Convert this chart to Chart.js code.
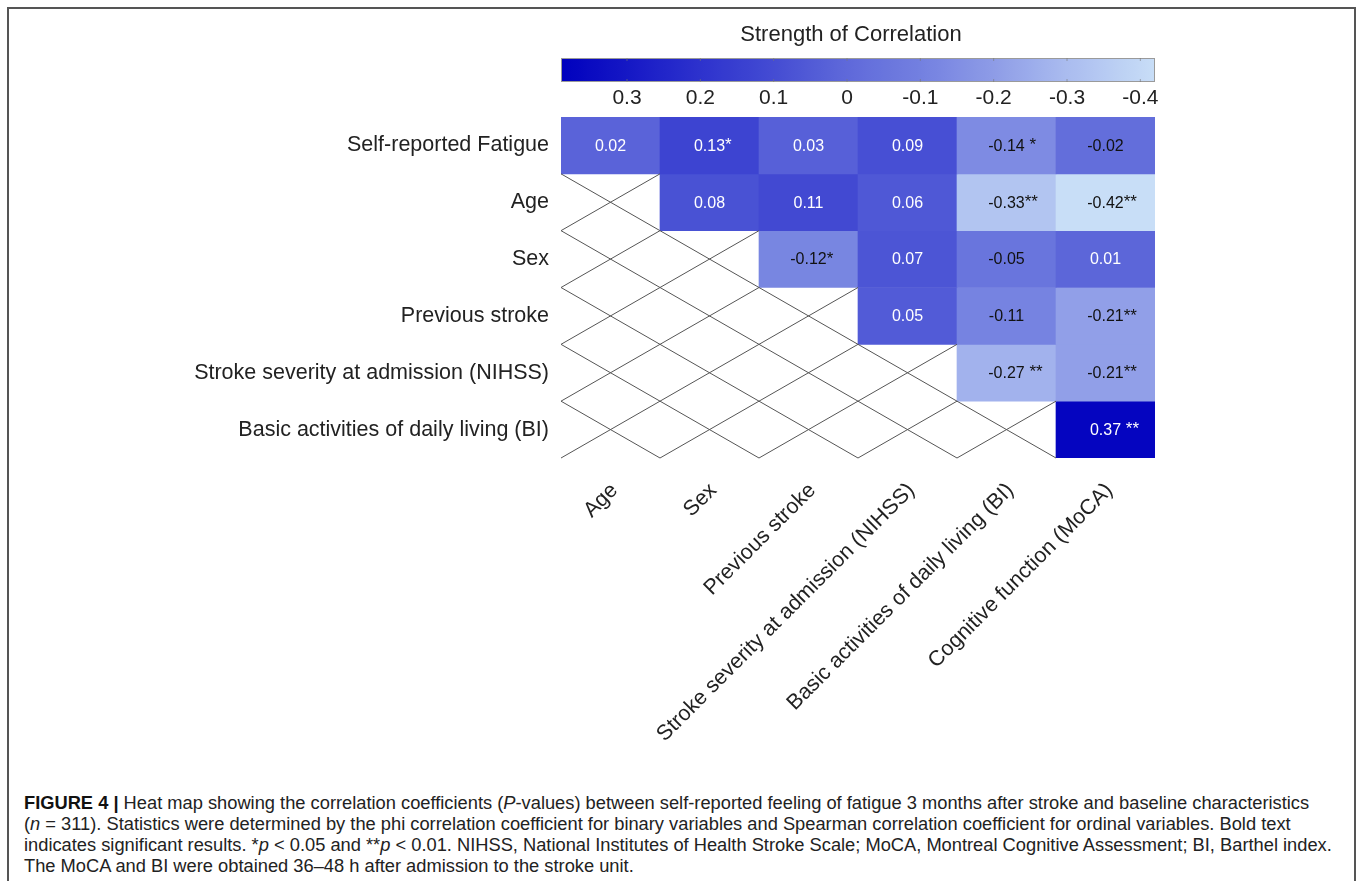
<!DOCTYPE html>
<html>
<head>
<meta charset="utf-8">
<script src="https://cdn.jsdelivr.net/npm/chart.js@4.4.0/dist/chart.umd.min.js"></script>
<style>
  body { margin: 0; background: #fff; }
  #frame { position: absolute; left: 7px; top: 7px; width: 1345px; height: 900px; border: 2px solid #555; }
  #wrap { position: absolute; left: 0; top: 0; width: 1357px; height: 760px; }
  #caption { position: absolute; left: 24px; top: 792px; font-family: "Liberation Sans", Arial, sans-serif;
             font-size: 18.3px; line-height: 21px; color: #222; white-space: nowrap; }
  #caption b { color: #111; }
</style>
</head>
<body>
<div id="frame"></div>
<div id="wrap"><canvas id="myChart" width="1357" height="760"></canvas></div>
<div id="caption"><b>FIGURE 4 |</b> Heat map showing the correlation coefficients (<i>P</i>-values) between self-reported feeling of fatigue 3 months after stroke and baseline characteristics<br>(<i>n</i> = 311). Statistics were determined by the phi correlation coefficient for binary variables and Spearman correlation coefficient for ordinal variables. Bold text<br>indicates significant results. *<i>p</i> &lt; 0.05 and **<i>p</i> &lt; 0.01. NIHSS, National Institutes of Health Stroke Scale; MoCA, Montreal Cognitive Assessment; BI, Barthel index.<br>The MoCA and BI were obtained 36–48 h after admission to the stroke unit.</div>
<script>
var colLabels = ["Age", "Sex", "Previous stroke", "Stroke severity at admission (NIHSS)",
                 "Basic activities of daily living (BI)", "Cognitive function (MoCA)"];
var rowLabels = ["Self-reported Fatigue", "Age", "Sex", "Previous stroke",
                 "Stroke severity at admission (NIHSS)", "Basic activities of daily living (BI)"];

// correlation per row, null = empty (lower triangle)
var corr = [
    [0.02, 0.13, 0.03, 0.09, -0.14, -0.02],
    [null, 0.08, 0.11, 0.06, -0.33, -0.42],
    [null, null, -0.12, 0.07, -0.05, 0.01],
    [null, null, null, 0.05, -0.11, -0.21],
    [null, null, null, null, -0.27, -0.21],
    [null, null, null, null, null, 0.37]
];
var stars = [
    ["", "*", "", "", " *", ""],
    ["", "", "", "", "**", "**"],
    ["", "", "*", "", "", ""],
    ["", "", "", "", "", "**"],
    ["", "", "", "", " **", "**"],
    ["", "", "", "", "", " **"]
];

var cbTicks = [0.3, 0.2, 0.1, 0, -0.1, -0.2, -0.3, -0.4];
var cbRange = [0.39, -0.42];

var FONT = '"Liberation Sans", Arial, sans-serif';

// colour stops (value -> rgb)
var cmap = [
    [0.39, [0, 0, 190]],
    [0.2, [45, 50, 205]],
    [0.1, [68, 76, 211]],
    [0, [95, 105, 218]],
    [-0.1, [115, 128, 224]],
    [-0.2, [142, 156, 231]],
    [-0.3, [170, 188, 239]],
    [-0.42, [200, 222, 247]]
];

function colorFor(v) {
    if (v >= cmap[0][0]) return 'rgb(' + cmap[0][1].join(',') + ')';
    for (var k = 1; k < cmap.length; k++) {
        if (v >= cmap[k][0]) {
            var a = cmap[k - 1], b = cmap[k];
            var t = (a[0] - v) / (a[0] - b[0]);
            var c = a[1].map(function (x, n) { return Math.round(x + (b[1][n] - x) * t); });
            return 'rgb(' + c.join(',') + ')';
        }
    }
    return 'rgb(' + cmap[cmap.length - 1][1].join(',') + ')';
}

var datasets = rowLabels.map(function (r, i) {
    return {
        label: r,
        data: corr[i].map(function (v) { return v === null ? null : [i, i + 1]; }),
        backgroundColor: corr[i].map(function (v) { return v === null ? 'rgba(0,0,0,0)' : colorFor(v); }),
        borderWidth: 0,
        grouped: false,
        barPercentage: 1,
        categoryPercentage: 1
    };
});

// X pattern in the empty cells
var crossPlugin = {
    id: 'cross',
    afterDatasetsDraw: function (chart) {
        var ctx = chart.ctx, xs = chart.scales.x, ys = chart.scales.y;
        var half = (xs.getPixelForValue(1) - xs.getPixelForValue(0)) / 2;
        ctx.save();
        ctx.strokeStyle = '#555';
        ctx.lineWidth = 1;
        ctx.beginPath();
        for (var i = 0; i < corr.length; i++) {
            for (var j = 0; j < colLabels.length; j++) {
                if (corr[i][j] !== null) continue;
                var cx = xs.getPixelForValue(j);
                var y0 = ys.getPixelForValue(i), y1 = ys.getPixelForValue(i + 1);
                ctx.moveTo(cx - half, y0); ctx.lineTo(cx + half, y1);
                ctx.moveTo(cx + half, y0); ctx.lineTo(cx - half, y1);
            }
        }
        ctx.stroke();
        ctx.restore();
    }
};

// values written inside the cells
var cellTextPlugin = {
    id: 'cellText',
    afterDatasetsDraw: function (chart) {
        var ctx = chart.ctx;
        ctx.save();
        ctx.font = '16px ' + FONT;
        ctx.textBaseline = 'middle';
        chart.data.datasets.forEach(function (ds, i) {
            var meta = chart.getDatasetMeta(i);
            meta.data.forEach(function (el, j) {
                var v = corr[i][j];
                if (v === null) return;
                var txt = v.toFixed(2);
                var cy = (el.y + el.base) / 2;
                ctx.fillStyle = v >= 0 ? '#fff' : '#111';
                ctx.textAlign = 'center';
                ctx.fillText(txt, el.x, cy + 1);
                if (stars[i][j]) {
                    var w = ctx.measureText(txt).width;
                    ctx.textAlign = 'left';
                    ctx.font = '17px ' + FONT;
                    ctx.fillText(stars[i][j], el.x + w / 2, cy);
                    ctx.font = '16px ' + FONT;
                }
            });
        });
        ctx.restore();
    }
};

// colour bar above the map
var colorbarPlugin = {
    id: 'colorbar',
    afterDraw: function (chart) {
        var ctx = chart.ctx, area = chart.chartArea;
        var left = area.left, right = area.right, top = 58, bottom = 82;
        var w = right - left;
        var grad = ctx.createLinearGradient(left, 0, right, 0);
        for (var k = 0; k <= 60; k++) {
            var v = cbRange[0] + (cbRange[1] - cbRange[0]) * k / 60;
            grad.addColorStop(k / 60, colorFor(v));
        }
        ctx.save();
        ctx.fillStyle = grad;
        ctx.fillRect(left, top, w, bottom - top);
        ctx.strokeStyle = '#9a9a9a';
        ctx.lineWidth = 1;
        ctx.strokeRect(left + 0.5, top + 0.5, w - 1, bottom - top - 1);
        ctx.font = '21px ' + FONT;
        ctx.fillStyle = '#222';
        ctx.textAlign = 'center';
        ctx.textBaseline = 'middle';
        cbTicks.forEach(function (t) {
            var x = left + (cbRange[0] - t) / (cbRange[0] - cbRange[1]) * w;
            ctx.beginPath();
            ctx.moveTo(x, top); ctx.lineTo(x, top + 3);
            ctx.moveTo(x, bottom); ctx.lineTo(x, bottom - 3);
            ctx.strokeStyle = 'rgba(120,120,120,0.6)';
            ctx.stroke();
            ctx.fillText(String(t), x, 98);
        });
        ctx.font = '22px ' + FONT;
        ctx.fillText('Strength of Correlation', 851, 35);
        ctx.restore();
    }
};

var ctx = document.getElementById('myChart');

const myChart = new Chart(ctx, {
    type: "bar",
    data: {
        labels: colLabels,
        datasets: datasets
    },
    options: {
        responsive: false,
        animation: false,
        devicePixelRatio: 1,
        layout: {
            padding: { top: 117, right: 202, bottom: 0, left: 0 }
        },
        plugins: {
            legend: { display: false },
            tooltip: { enabled: false }
        },
        scales: {
            x: {
                type: 'category',
                grid: { display: false, drawTicks: false },
                border: { display: false },
                ticks: {
                    autoSkip: false,
                    minRotation: 45,
                    maxRotation: 45,
                    padding: 20,
                    labelOffset: 4,
                    color: '#222',
                    font: { size: 21.5, family: FONT }
                },
                afterFit: function (s) { s.height = 760 - 458; }
            },
            y: {
                type: 'linear',
                min: 0,
                max: 6,
                reverse: true,
                grid: { display: false, drawTicks: false },
                border: { display: false },
                afterBuildTicks: function (s) {
                    s.ticks = rowLabels.map(function (r, i) { return { value: i + 0.5 }; });
                },
                ticks: {
                    padding: 12,
                    color: '#222',
                    font: { size: 21.5, family: FONT },
                    callback: function (v) { return rowLabels[Math.floor(v)]; }
                },
                afterFit: function (s) { s.width = 561; }
            }
        }
    },
    plugins: [crossPlugin, cellTextPlugin, colorbarPlugin]
});
</script>
</body>
</html>
